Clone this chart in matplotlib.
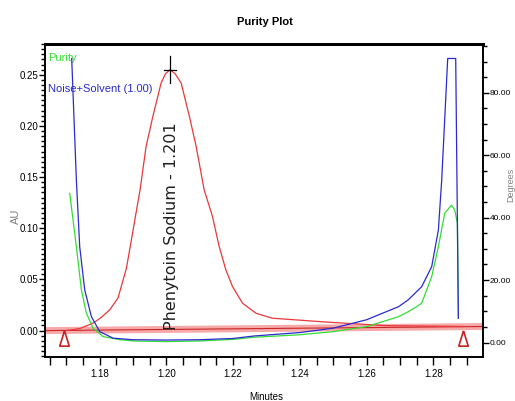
import numpy as np
from matplotlib import pyplot as plt
from matplotlib.ticker import MultipleLocator, FormatStrFormatter

# peak chromatogram (AU, left axis)
red_t = [1.170, 1.174, 1.178, 1.1805, 1.183, 1.1855, 1.188, 1.1895, 1.1907, 1.1921,
         1.1939, 1.1959, 1.1984, 1.1997, 1.2011, 1.2026, 1.2044, 1.2069, 1.2089, 1.2113,
         1.2138, 1.2158, 1.2178, 1.2198, 1.2228, 1.2268, 1.2317, 1.2387, 1.245, 1.252,
         1.260, 1.266, 1.289]
red_au = [0.000, 0.002, 0.0072, 0.013, 0.0203, 0.032, 0.061, 0.0888, 0.1115, 0.1377,
          0.180, 0.209, 0.242, 0.251, 0.255, 0.251, 0.242, 0.209, 0.180, 0.1376,
          0.1115, 0.0822, 0.0594, 0.043, 0.0268, 0.017, 0.0121, 0.0105, 0.009, 0.0075,
          0.006, 0.0048, 0.004]

# purity and noise+solvent curves (degrees, right axis)
blue_t = [1.1716, 1.173, 1.174, 1.1755, 1.1775, 1.180, 1.184, 1.190, 1.200, 1.210,
          1.220, 1.2263, 1.240, 1.250, 1.260, 1.2696, 1.2725, 1.2765, 1.2795, 1.2815,
          1.2825, 1.2843, 1.2867, 1.2875]
blue_deg = [91.0, 52.0, 30.7, 16.9, 8.3, 3.5, 1.4, 0.9, 0.8, 0.9,
            1.3, 2.1, 3.2, 4.6, 7.3, 11.5, 13.7, 17.9, 24.3, 36.0,
            52.0, 91.0, 91.0, 7.8]

green_t = [1.171, 1.173, 1.1745, 1.176, 1.178, 1.181, 1.186, 1.190, 1.200, 1.210,
           1.220, 1.2263, 1.240, 1.250, 1.260, 1.2696, 1.2725, 1.275, 1.2765, 1.2795,
           1.2815, 1.2834, 1.2854, 1.2864, 1.2872, 1.2875]
green_deg = [47.8, 30.7, 16.9, 9.4, 4.6, 1.9, 0.9, 0.5, 0.3, 0.5,
             1.0, 1.7, 2.5, 3.5, 5.1, 8.3, 9.9, 11.5, 12.6, 21.1,
             30.7, 41.4, 44.0, 42.5, 38.2, 7.8]

base_t = [1.1636, 1.2949]
base_au = [0.000, 0.004]
marks_t = [1.1693, 1.2890]
marks_au = [-0.0068, -0.0068]

peak_t = 1.2011
peak_au = 0.255
peak_label = "Phenytoin Sodium - 1.201"

plt.rcParams['font.family'] = ['Liberation Sans', 'DejaVu Sans']

fig = plt.figure(figsize=(5.15, 4.01), dpi=100)
ax = fig.add_axes([0.0874, 0.110, 0.8506, 0.780])
ax2 = ax.twinx()

ax.set_xlim(1.1636, 1.2949)
ax.set_ylim(-0.0257, 0.280)
ax2.set_ylim(-4.6, 95.6)

# baseline band
ax.plot(base_t, base_au, color='#f7a8a8', lw=5, solid_capstyle='butt', zorder=1)
ax.plot(base_t, base_au, color='#c82828', lw=0.8, zorder=2)

ax.plot(red_t, red_au, color='#e8383a', lw=0.9, zorder=3)
tri = [(0, 1), (-0.62, -1), (0.62, -1), (0, 1)]
ax.plot(marks_t, marks_au, ls='none', marker=tri, ms=11, mfc='none', mec='#c82020', mew=1.2, zorder=4)

# peak marker
ax.plot([peak_t, peak_t], [0.242, 0.268], color='black', lw=0.9, zorder=4)
ax.plot([peak_t - 0.0018, peak_t + 0.0018], [peak_au, peak_au], color='black', lw=0.9, zorder=4)
ax.text(peak_t + 0.0004, 0.0004, peak_label, rotation=90, ha='center', va='bottom',
        fontsize=11.5, family='DejaVu Sans', color='#202020', zorder=5)

ax2.plot(green_t, green_deg, color='#33dd33', lw=0.9, zorder=3)
ax2.plot(blue_t, blue_deg, color='#2a2ad0', lw=0.9, zorder=3)

ax.text(0.007, 0.955, "Purity", color='#33dd33', transform=ax.transAxes, fontsize=8, va='center')
ax.text(0.007, 0.858, "Noise+Solvent (1.00)", color='#2a2ad0', transform=ax.transAxes, fontsize=8, va='center')

ax.xaxis.set_major_locator(MultipleLocator(0.02))
ax.xaxis.set_minor_locator(MultipleLocator(0.005))
ax.xaxis.set_major_formatter(FormatStrFormatter('%.2f'))
ax.yaxis.set_major_locator(MultipleLocator(0.05))
ax.yaxis.set_minor_locator(MultipleLocator(0.005))
ax.yaxis.set_major_formatter(FormatStrFormatter('%.2f'))
ax2.yaxis.set_major_locator(MultipleLocator(20))
ax2.yaxis.set_minor_locator(MultipleLocator(5))
ax2.yaxis.set_major_formatter(FormatStrFormatter('%.2f'))

for a in (ax, ax2):
    a.tick_params(which='major', direction='out', length=4, width=1, labelsize=7, pad=1)
    a.tick_params(which='minor', direction='out', length=3, width=1)
    for s in a.spines.values():
        s.set_linewidth(1.2)
ax.spines['top'].set_linewidth(2)
ax2.spines['top'].set_linewidth(2)
ax.tick_params(axis='x', which='both', length=5.5, pad=3)
ax2.tick_params(axis='y', which='major', labelsize=6, pad=0.5)

ax.set_xlabel("Minutes", fontsize=7)
ax.xaxis.set_label_coords(0.505, -0.112)
ax.set_ylabel("AU", fontsize=8, color='#808080')
ax.yaxis.set_label_coords(-0.055, 0.45)
ax2.set_ylabel("Degrees", fontsize=6.5, color='#808080', rotation=90)
ax2.yaxis.set_label_coords(1.054, 0.55)
fig.suptitle("Purity Plot", fontsize=8, fontweight='bold', x=0.514, y=0.958)

plt.savefig("out.png", dpi=100)
